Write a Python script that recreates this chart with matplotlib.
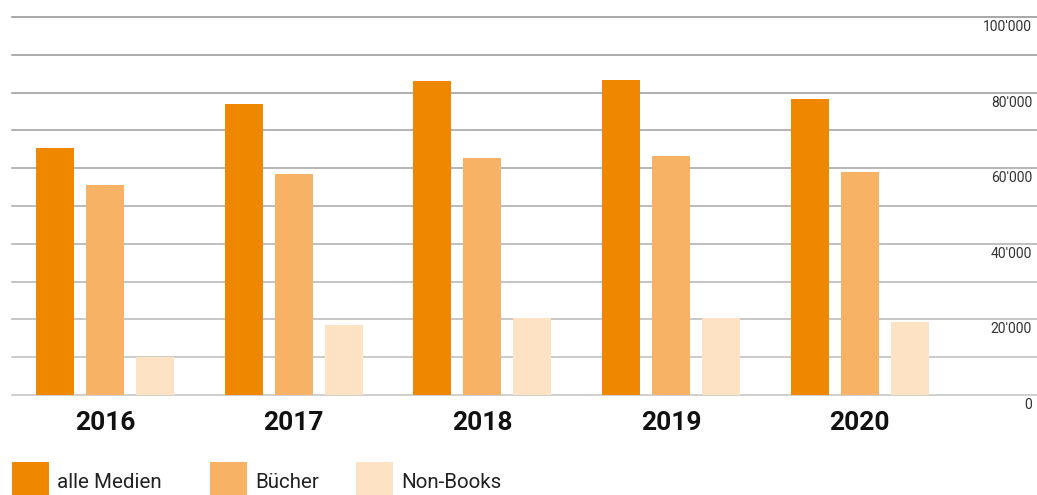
import matplotlib
matplotlib.use("Agg")
import matplotlib.pyplot as plt
import matplotlib.transforms as mtransforms
from matplotlib.patches import Rectangle
import numpy as np

years = ["2016", "2017", "2018", "2019", "2020"]
alle_medien = [65300, 77000, 83100, 83300, 78300]
buecher = [55600, 58500, 62700, 63200, 59000]
non_books = [10100, 18500, 20400, 20400, 19300]
series_names = ["alle Medien", "Bücher", "Non-Books"]
series_colors = ["#F08700", "#F7B265", "#FDE2C4"]
tick_values = [0, 20000, 40000, 60000, 80000, 100000]
tick_labels = ["0", "20'000", "40'000", "60'000", "80'000", "100'000"]

W, H = 1037, 495
fig = plt.figure(figsize=(W / 100, H / 100), dpi=100)
ax = fig.add_axes([12 / W, (H - 395) / H, 1 - 12 / W, (395 - 17) / H])

x = np.arange(len(years))
step = 0.265
width = 0.2015
for i, (vals, col) in enumerate(zip([alle_medien, buecher, non_books], series_colors)):
    ax.bar(x + (i - 1) * step, vals, width=width, color=col, zorder=3, linewidth=0)

ax.set_xlim(-0.493, 4.94)
ax.set_ylim(0, 100000)

grid_vals = np.arange(0, 100001, 10000)
for g in grid_vals:
    t = g / 100000
    c = 0.76 - 0.2 * t
    ax.axhline(g, color=(c, c, c), lw=1.1, zorder=1, clip_on=False)

trans = mtransforms.blended_transform_factory(fig.transFigure, ax.transData)
off = mtransforms.ScaledTranslation(0, -3 / 100, fig.dpi_scale_trans)
for v, lab in zip(tick_values, tick_labels):
    ax.text(1032 / W, v, lab, transform=trans + off, ha="right", va="top",
            fontsize=10, color="#333333", family="Roboto")

ytrans = mtransforms.blended_transform_factory(ax.transData, fig.transFigure)
for xi, yr in zip(x, years):
    ax.text(xi, (H - 423) / H, yr, transform=ytrans,
            ha="center", va="center", fontsize=19, fontweight="bold", family="Roboto",
            color="#111111")

for s in ax.spines.values():
    s.set_visible(False)
ax.set_xticks([])
ax.set_yticks([])

leg_x = [12, 210, 356]
for name, col, lx in zip(series_names, series_colors, leg_x):
    fig.patches.append(Rectangle((lx / W, 0), 37 / W, 33 / H, transform=fig.transFigure,
                                 facecolor=col, edgecolor="none"))
    fig.text((lx + 45) / W, (H - 482) / H, name, ha="left", va="center",
             fontsize=14.8, color="#222222", family="Roboto")

fig.savefig("out.png", dpi=100)
